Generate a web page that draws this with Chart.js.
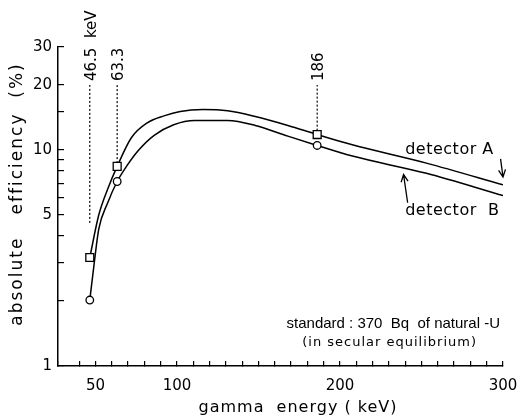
<!DOCTYPE html>
<html>
<head>
<meta charset="utf-8">
<script src="https://cdn.jsdelivr.net/npm/chart.js@4.4.1/dist/chart.umd.min.js"></script>
<style>
  html, body { margin: 0; padding: 0; background: #fff; }
  canvas { display: block; }
</style>
</head>
<body>
<canvas id="effChart" width="520" height="419"></canvas>
<script>
// ---------------- DATA ----------------
// detector A curve (keV, %)
const energyA = [46.5, 52, 57.5, 63.3, 72, 82, 92, 102, 116, 131, 148, 168, 186, 207, 253, 300];
const effA    = [3.18, 5.0, 6.6, 8.4, 11.4, 13.4, 14.4, 15.1, 15.4, 15.2, 14.3, 13.0, 11.8, 10.6, 8.7, 6.9];

// detector B curve (keV, %)
const energyB = [46.5, 49, 52, 57.5, 63.3, 69, 76, 86, 98, 111, 131, 148, 168, 186, 207, 253, 300];
const effB    = [2.02, 2.9, 4.3, 5.7, 7.15, 8.4, 9.9, 11.7, 13.1, 13.7, 13.7, 13.0, 11.6, 10.5, 9.4, 7.8, 6.15];

// measured peaks
const peakEnergy = [46.5, 63.3, 186];
const peakLabels = ["46.5  keV", "63.3", "186"];
const measA = [3.18, 8.4, 11.8];
const measB = [2.02, 7.15, 10.5];
const dashLow = [4.6, 8.7, 12.3];
const dashTop = 20;

// tick labels
const xTickLabels = [50, 100, 200, 300];
const yTickLabels = [1, 5, 10, 20, 30];

const FONT = '"DejaVu Sans", sans-serif';

// ---------------- DATASETS ----------------
const toXY = (xs, ys) => xs.map((v, i) => ({ x: v, y: ys[i] }));

const dashSets = peakEnergy.map((e, i) => ({
    data: [{ x: e, y: dashLow[i] }, { x: e, y: dashTop }],
    borderColor: "#000",
    borderWidth: 1.2,
    borderDash: [2, 2],
    pointRadius: 0,
    order: 3
}));

const datasets = [
    {
        label: "detector A",
        data: toXY(energyA, effA),
        borderColor: "#000",
        borderWidth: 1.5,
        pointRadius: 0,
        cubicInterpolationMode: "monotone",
        order: 2
    },
    {
        label: "detector B",
        data: toXY(energyB, effB),
        borderColor: "#000",
        borderWidth: 1.5,
        pointRadius: 0,
        cubicInterpolationMode: "monotone",
        order: 2
    },
    {
        label: "A measured",
        data: toXY(peakEnergy, measA),
        showLine: false,
        pointStyle: "rect",
        pointRadius: 5.6,
        pointBorderWidth: 1.3,
        pointBorderColor: "#000",
        pointBackgroundColor: "#fff",
        order: 0
    },
    {
        label: "B measured",
        data: toXY(peakEnergy, measB),
        showLine: false,
        pointStyle: "circle",
        pointRadius: 3.8,
        pointBorderWidth: 1.3,
        pointBorderColor: "#000",
        pointBackgroundColor: "#fff",
        order: 0
    },
    ...dashSets
];

// ---------------- ANNOTATIONS ----------------
function arrow(ctx, x1, y1, x2, y2) {
    const a = Math.atan2(y2 - y1, x2 - x1);
    ctx.beginPath();
    ctx.moveTo(x1, y1);
    ctx.lineTo(x2, y2);
    ctx.moveTo(x2 - 8 * Math.cos(a - 0.45), y2 - 8 * Math.sin(a - 0.45));
    ctx.lineTo(x2, y2);
    ctx.lineTo(x2 - 8 * Math.cos(a + 0.45), y2 - 8 * Math.sin(a + 0.45));
    ctx.stroke();
}

const notes = {
    id: "notes",
    beforeDraw(chart) {
        const c = chart.ctx;
        c.save();
        c.fillStyle = "#fff";
        c.fillRect(0, 0, chart.width, chart.height);
        c.restore();
    },
    afterDatasetsDraw(chart) {
        const { ctx, chartArea: area, scales: { x, y } } = chart;
        ctx.save();
        ctx.fillStyle = "#000";
        ctx.strokeStyle = "#000";
        ctx.lineWidth = 1.3;

        // peak labels, rotated
        ctx.font = "15px " + FONT;
        ctx.textAlign = "left";
        ctx.textBaseline = "middle";
        peakEnergy.forEach((e, i) => {
            ctx.save();
            ctx.translate(x.getPixelForValue(e) + 2, y.getPixelForValue(dashTop) - 4);
            ctx.rotate(-Math.PI / 2);
            ctx.fillText(peakLabels[i], 0, 0);
            ctx.restore();
        });

        // detector labels + arrows
        ctx.font = "16px " + FONT;
        ctx.letterSpacing = "0.5px";
        ctx.fillText("detector A", x.getPixelForValue(240), y.getPixelForValue(10));
        ctx.fillText("detector  B", x.getPixelForValue(240), y.getPixelForValue(5.25));
        arrow(ctx, x.getPixelForValue(298.5), y.getPixelForValue(9.1), x.getPixelForValue(300), y.getPixelForValue(7.5));
        arrow(ctx, x.getPixelForValue(241.5), y.getPixelForValue(5.7), x.getPixelForValue(239), y.getPixelForValue(7.7));

        // standard note
        ctx.textAlign = "right";
        ctx.letterSpacing = "0px";
        ctx.font = '15px "Liberation Sans", sans-serif';
        ctx.fillText("standard : 370  Bq  of natural -U", area.right - 3, area.bottom - 42);
        ctx.font = "13px " + FONT;
        ctx.letterSpacing = "1px";
        ctx.fillText("(in secular equilibrium)", area.right - 26, area.bottom - 23);

        // axis titles
        ctx.textAlign = "center";
        ctx.font = "16px " + FONT;
        ctx.letterSpacing = "1px";
        ctx.fillText("gamma  energy ( keV)", 298, area.bottom + 42);
        ctx.save();
        ctx.translate(18, 194);
        ctx.rotate(-Math.PI / 2);
        ctx.font = "17px " + FONT;
        ctx.letterSpacing = "2px";
        ctx.fillText("absolute   efficiency  (%)", 0, 0);
        ctx.restore();

        ctx.restore();
    }
};

// ---------------- CHART ----------------
new Chart(document.getElementById("effChart"), {
    type: "line",
    data: { datasets: datasets },
    plugins: [notes],
    options: {
        responsive: false,
        animation: false,
        layout: { padding: { top: 47, right: 17, left: 0, bottom: 0 } },
        plugins: { legend: { display: false }, tooltip: { enabled: false } },
        scales: {
            x: {
                type: "linear",
                min: 27,
                max: 300,
                afterFit: s => { s.height = 53; s.paddingLeft = 0; s.paddingRight = 0; },
                border: { color: "#000", width: 1.5 },
                grid: { drawOnChartArea: false, drawTicks: true, tickLength: -5, color: "#000", lineWidth: 1.2 },
                ticks: {
                    stepSize: 10,
                    autoSkip: false,
                    maxRotation: 0,
                    padding: 16,
                    color: "#000",
                    font: { family: FONT, size: 15 },
                    callback: v => xTickLabels.includes(v) ? String(v) : ""
                }
            },
            y: {
                type: "logarithmic",
                min: 1,
                max: 30,
                afterFit: s => { s.width = 58; },
                border: { color: "#000", width: 1.5 },
                grid: { drawOnChartArea: false, drawTicks: true, tickLength: -6, color: "#000", lineWidth: 1.2 },
                ticks: {
                    autoSkip: false,
                    padding: 12,
                    color: "#000",
                    font: { family: FONT, size: 15 },
                    callback: v => yTickLabels.includes(v) ? String(v) : ""
                }
            }
        }
    }
});
</script>
</body>
</html>
